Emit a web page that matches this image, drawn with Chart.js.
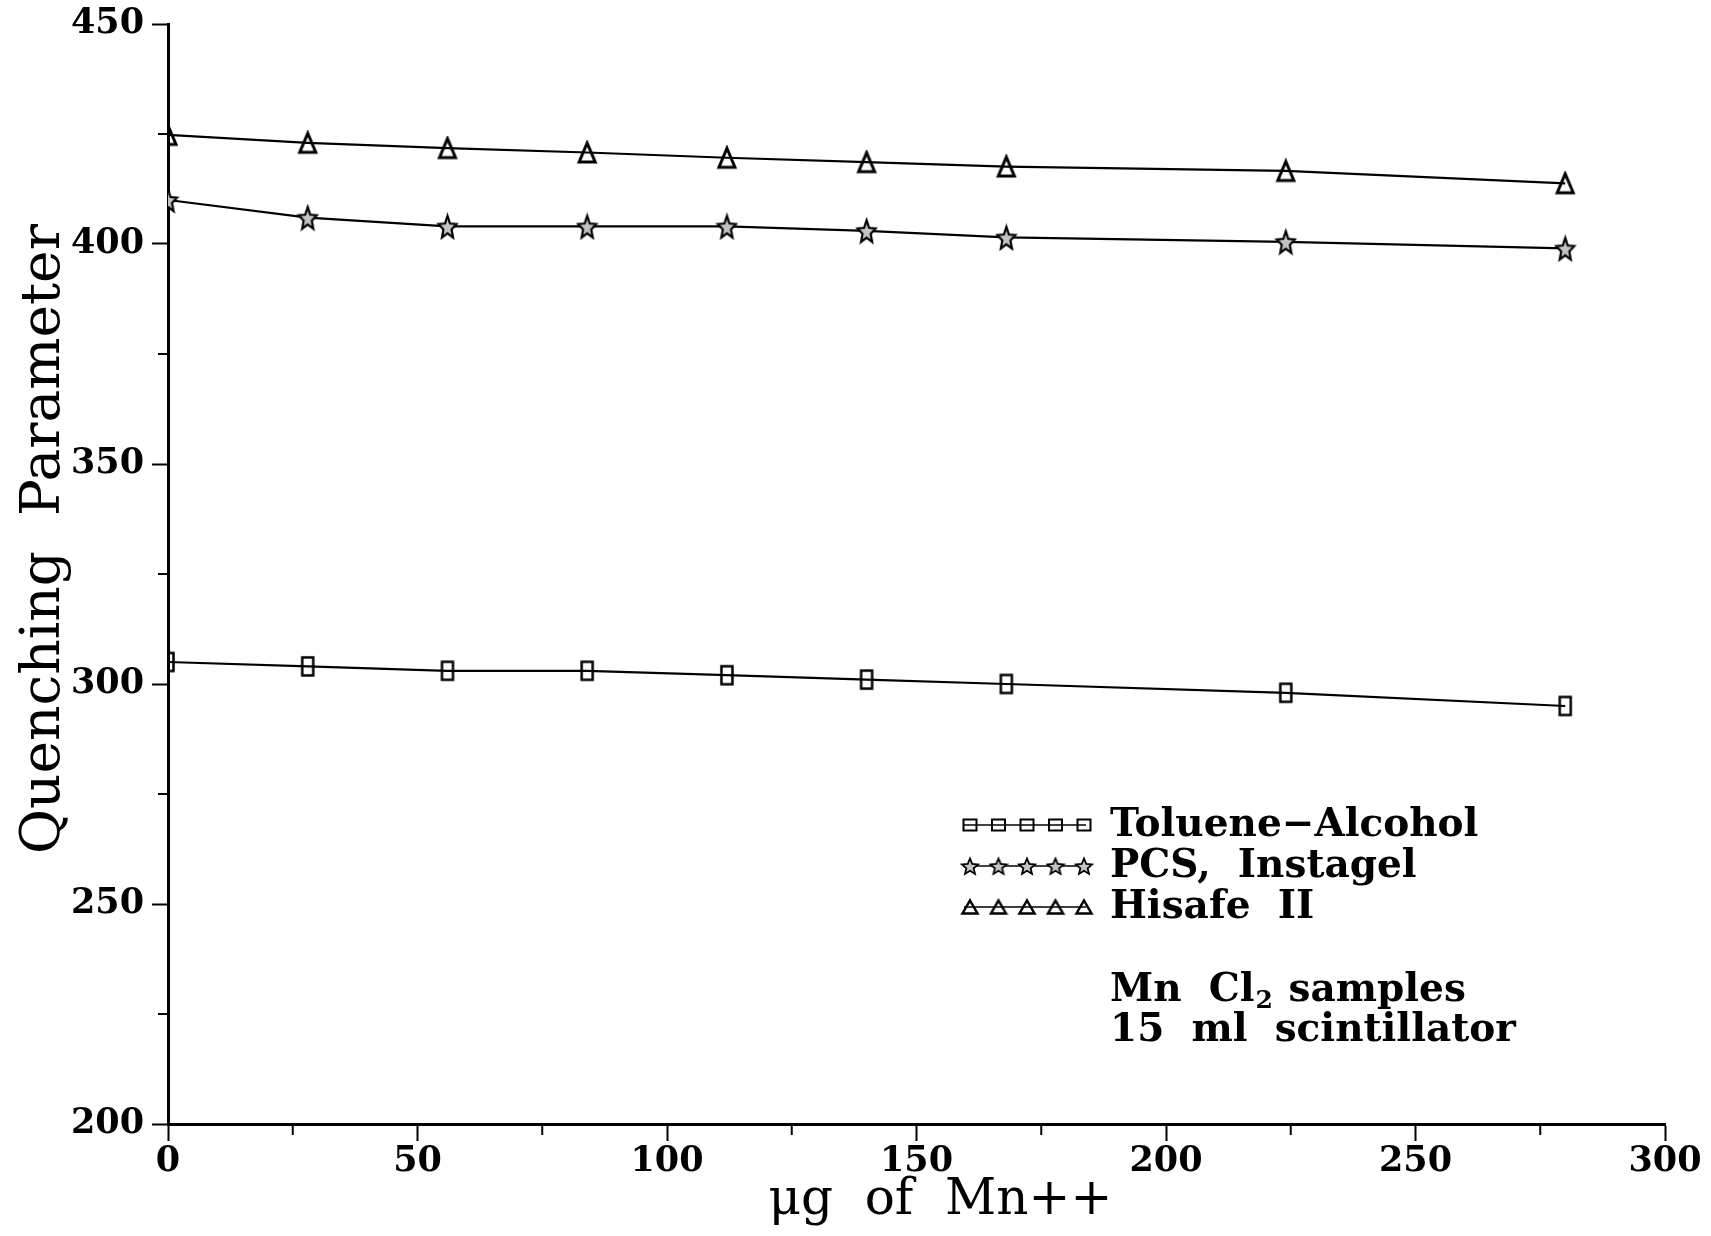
<!DOCTYPE html>
<html>
<head>
<meta charset="utf-8">
<script src="https://cdn.jsdelivr.net/npm/chart.js@4.4.1/dist/chart.umd.min.js"></script>
<style>
  html, body { margin: 0; padding: 0; background: #fff; }
  #wrap { width: 1711px; height: 1236px; }
</style>
</head>
<body>
<div id="wrap"><canvas id="quench"></canvas></div>
<script>
// data
const mn_ug = [0, 28, 56, 84, 112, 140, 168, 224, 280]
const toluene_alcohol = [305, 304, 303, 303, 302, 301, 300, 298, 295]
const pcs_instagel = [410, 406, 404, 404, 404, 403, 401.5, 400.5, 399]
const hisafe_ii = [424.8, 423, 421.8, 420.8, 419.6, 418.6, 417.6, 416.6, 413.8]
const series_names = ['Toluene\u2212Alcohol', 'PCS,  Instagel', 'Hisafe  II']
const x_minor = [25, 75, 125, 175, 225, 275]
const y_minor = [225, 275, 325, 375, 425]

const serif = '"DejaVu Serif", serif'

// marker images
function boxMarker(w, h, lw) {
  const c = document.createElement('canvas')
  c.width = w + lw * 2; c.height = h + lw * 2
  const g = c.getContext('2d')
  g.strokeStyle = '#000'; g.lineWidth = lw
  g.strokeRect(lw, lw, w, h)
  return c
}
function triMarker(w, h, lw) {
  const c = document.createElement('canvas')
  c.width = w + lw * 2; c.height = h + lw * 2
  const g = c.getContext('2d')
  g.strokeStyle = '#000'; g.lineWidth = lw; g.lineJoin = 'miter'
  g.beginPath()
  g.moveTo(lw + w / 2, lw)
  g.lineTo(lw + w, lw + h)
  g.lineTo(lw, lw + h)
  g.closePath()
  g.stroke()
  return c
}
function starMarker(w, h, lw) {
  const c = document.createElement('canvas')
  c.width = w + lw * 2; c.height = h + lw * 2
  const g = c.getContext('2d')
  const cx = c.width / 2, cy = c.height / 2 + h * 0.06
  const rx = w / 2, ry = h / 2
  g.beginPath()
  for (let i = 0; i < 10; i++) {
    const a = -Math.PI / 2 + i * Math.PI / 5
    const r = i % 2 ? 0.45 : 1
    const px = cx + Math.cos(a) * rx * r, py = cy + Math.sin(a) * ry * r
    if (i == 0) g.moveTo(px, py); else g.lineTo(px, py)
  }
  g.closePath()
  g.fillStyle = '#c4c4c4'; g.fill()
  g.strokeStyle = '#000'; g.lineWidth = lw
  g.stroke()
  return c
}

const sq_pt = boxMarker(11, 18, 2.5)
const star_pt = starMarker(19, 24, 2.2)
const tri_pt = triMarker(16, 19, 3)
const legend_marks = [boxMarker(13, 11, 2), starMarker(17, 17, 1.8), triMarker(15, 13, 2.5)]

// short ticks at the in-between values
const minorTicks = {
  id: 'minorTicks',
  afterDraw(chart) {
    const ctx = chart.ctx, xs = chart.scales.x, ys = chart.scales.y
    const area = chart.chartArea
    ctx.save()
    ctx.strokeStyle = '#000'; ctx.lineWidth = 2
    x_minor.forEach(v => {
      const px = xs.getPixelForValue(v)
      ctx.beginPath(); ctx.moveTo(px, area.bottom); ctx.lineTo(px, area.bottom + 11); ctx.stroke()
    })
    y_minor.forEach(v => {
      const py = ys.getPixelForValue(v)
      ctx.beginPath(); ctx.moveTo(area.left, py); ctx.lineTo(area.left - 10, py); ctx.stroke()
    })
    ctx.restore()
  }
}

// legend block: five markers on a line, then the name
const sampleLegend = {
  id: 'sampleLegend',
  afterDraw(chart) {
    const ctx = chart.ctx
    const rows = [825, 866, 907]
    const tx = 1110
    ctx.save()
    ctx.fillStyle = '#000'
    ctx.font = 'bold 39px ' + serif
    ctx.textBaseline = 'middle'
    rows.forEach((ry, i) => {
      ctx.strokeStyle = '#000'; ctx.lineWidth = 1.5
      ctx.beginPath(); ctx.moveTo(964, ry); ctx.lineTo(1086, ry); ctx.stroke()
      const img = legend_marks[i]
      for (let k = 0; k < 5; k++) {
        const mx = 970 + k * 28.5
        ctx.drawImage(img, mx - img.width / 2, ry - img.height / 2)
      }
      ctx.fillText(series_names[i], tx, ry + 1)
    })
    // note
    ctx.fillText('Mn  Cl', tx, 991)
    const w = ctx.measureText('Mn  Cl').width
    ctx.font = 'bold 25px ' + serif
    ctx.fillText('2', tx + w + 1, 1001)
    ctx.font = 'bold 39px ' + serif
    ctx.fillText('samples', tx + w + 34, 991)
    ctx.fillText('15  ml  scintillator', tx, 1031)
    ctx.restore()
  }
}

function line(data, pt, name) {
  return {
    label: name,
    data: mn_ug.map((x, i) => ({ x: x, y: data[i] })),
    borderColor: '#000',
    borderWidth: 2.2,
    pointStyle: pt,
    pointRadius: 10,
    tension: 0,
    fill: false
  }
}

new Chart(document.getElementById('quench'), {
  type: 'line',
  data: {
    datasets: [
      line(toluene_alcohol, sq_pt, series_names[0]),
      line(pcs_instagel, star_pt, series_names[1]),
      line(hisafe_ii, tri_pt, series_names[2])
    ]
  },
  options: {
    responsive: true,
    maintainAspectRatio: false,
    animation: false,
    layout: { padding: { top: 24, right: 46, bottom: 0, left: 0 } },
    plugins: { legend: { display: false }, tooltip: { enabled: false } },
    scales: {
      x: {
        type: 'linear', min: 0, max: 300,
        border: { color: '#000', width: 3 },
        grid: { drawOnChartArea: false, tickLength: 17, tickColor: '#000', tickWidth: 2 },
        ticks: { stepSize: 50, color: '#000', padding: 0, maxRotation: 0, font: { family: serif, size: 35, weight: 'bold' } },
        title: { display: true, text: '   \u03bcg  of  Mn++', color: '#000', padding: { top: 0, bottom: 5 }, font: { family: serif, size: 50 } },
        afterFit(s) { s.height = 112 }
      },
      y: {
        min: 200, max: 450,
        border: { color: '#000', width: 3 },
        grid: { drawOnChartArea: false, tickLength: 16, tickColor: '#000', tickWidth: 2 },
        ticks: { stepSize: 50, color: '#000', padding: 8, font: { family: serif, size: 35, weight: 'bold' } },
        title: { display: true, text: '    Quenching  Parameter', color: '#000', padding: { top: 12, bottom: 0 }, font: { family: serif, size: 55 } },
        afterFit(s) { s.width = 168; s.paddingTop = 0; s.paddingBottom = 0 }
      }
    }
  },
  plugins: [minorTicks, sampleLegend]
})
</script>
</body>
</html>
